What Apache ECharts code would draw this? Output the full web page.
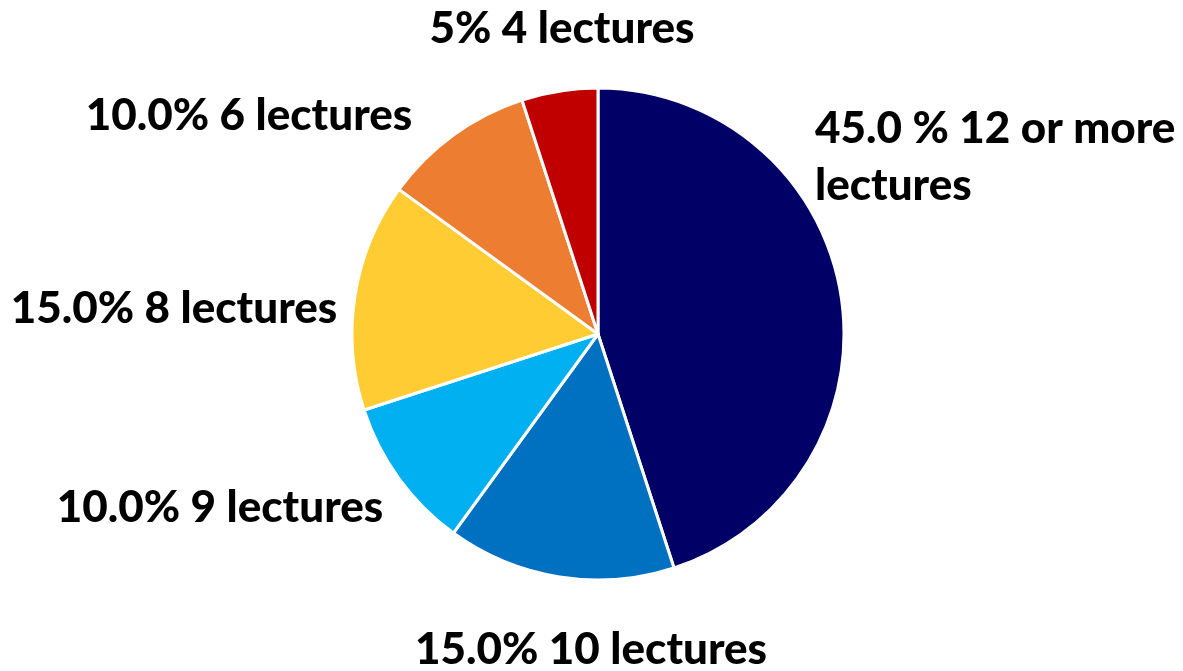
<!DOCTYPE html>
<html>
<head>
<meta charset="utf-8">
<script src="https://cdn.jsdelivr.net/npm/echarts@6/dist/echarts.min.js"></script>
<style>
html,body{margin:0;padding:0;background:#fff;}
#chart{width:1183px;height:671px;}
</style>
</head>
<body>
<div id="chart"></div>
<script>
const categories = ['12 or more lectures', '10 lectures', '9 lectures', '8 lectures', '6 lectures', '4 lectures'];
const values = [45, 15, 10, 15, 10, 5];
const labelTexts = ['45.0 % 12 or more\nlectures', '15.0% 10 lectures', '10.0% 9 lectures', '15.0% 8 lectures', '10.0% 6 lectures', '5% 4 lectures'];
const colors = ['#000066', '#0070C0', '#00B0F0', '#FFCC33', '#ED7D31', '#C00000'];

const labelPos = [
  {x: 815, y: 157, align: 'left'},
  {x: 591, y: 650, align: 'center'},
  {x: 220, y: 508, align: 'center'},
  {x: 174, y: 309, align: 'center'},
  {x: 249, y: 116, align: 'center'},
  {x: 562, y: 29, align: 'center'}
];

const chart = echarts.init(document.getElementById('chart'));
chart.setOption({
  animation: false,
  series: [{
    type: 'pie',
    center: [598, 334],
    radius: 246,
    startAngle: 90,
    clockwise: true,
    data: categories.map((c, i) => ({
      name: c,
      value: values[i],
      itemStyle: {color: colors[i]},
      label: {formatter: labelTexts[i]}
    })),
    itemStyle: {borderColor: '#fff', borderWidth: 3},
    label: {
      show: true,
      position: 'outside',
      alignTo: 'none',
      overflow: 'none',
      color: '#000',
      fontFamily: 'Lato',
      fontWeight: 900,
      fontSize: 44,
      lineHeight: 57
    },
    labelLine: {show: false},
    labelLayout: function (p) {
      const lp = labelPos[p.dataIndex];
      return {x: lp.x, y: lp.y, align: lp.align, verticalAlign: 'middle'};
    }
  }]
});
</script>
</body>
</html>
